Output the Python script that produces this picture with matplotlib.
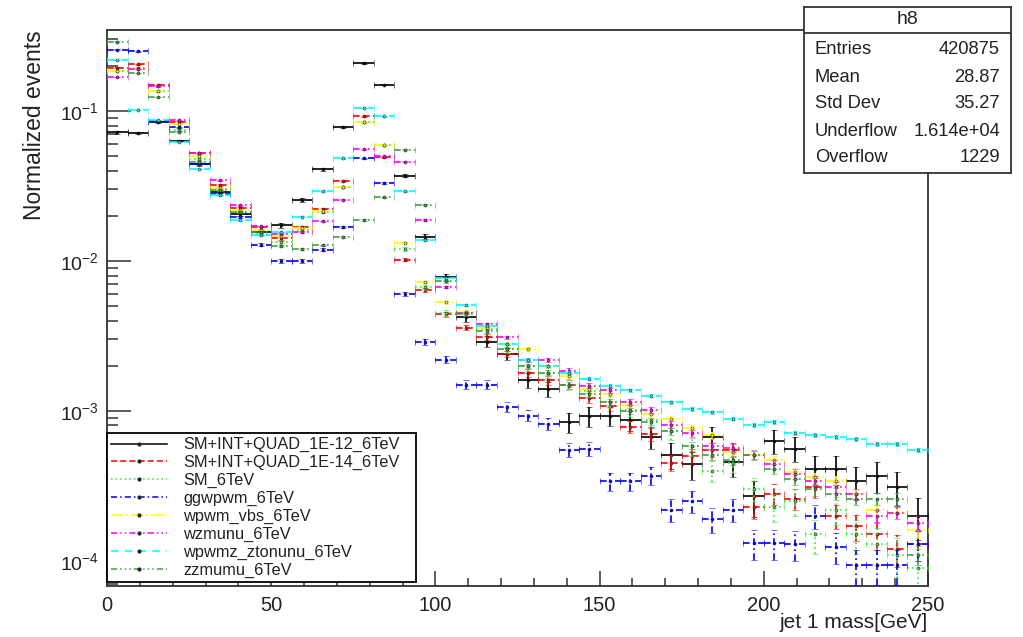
import numpy as np
import matplotlib
matplotlib.use("Agg")
import matplotlib.pyplot as plt
from matplotlib.lines import Line2D
from matplotlib.ticker import LogLocator, MultipleLocator, NullFormatter, LogFormatterSciNotation

plt.rcParams['font.family'] = ['Liberation Sans', 'DejaVu Sans']
plt.rcParams['mathtext.fontset'] = 'custom'
plt.rcParams['mathtext.rm'] = 'Liberation Sans'
plt.rcParams['mathtext.it'] = 'Liberation Sans:italic'
plt.rcParams['mathtext.default'] = 'regular'

# histogram binning: 40 bins from 0 to 250 GeV
bin_edges = np.linspace(0, 250, 41)

# normalized bin contents
h_1e12 = [0.072, 0.071, 0.085, 0.063, 0.044, 0.029, 0.0206, 0.0155, 0.0173, 0.0255,
          0.041, 0.078, 0.208, 0.150, 0.037, 0.0145, 0.0078, 0.0042, 0.0029, 0.0024,
          0.0016, 0.0014, 0.00084, 0.00092, 0.00093, 0.00087, 0.00067, 0.00051, 0.00044, 0.00067,
          0.00046, 0.00027, 0.00063, 0.00056, 0.00041, 0.00041, 0.00034, 0.00037, 0.00031, 0.0002]
h_1e14 = [0.194, 0.205, 0.148, 0.0844, 0.0523, 0.032, 0.0226, 0.0168, 0.0142, 0.0169,
          0.0221, 0.0343, 0.092, 0.049, 0.0102, 0.0064, 0.0044, 0.0036, 0.0031, 0.0024,
          0.0018, 0.0016, 0.0015, 0.00122, 0.00108, 0.00078, 0.0007, 0.00045, 0.0005, 0.00055,
          0.00055, 0.00023, 0.00028, 0.00026, 0.00031, 0.0002, 0.00017, 0.00015, 0.00012, 0.00013]
h_sm = [0.186, 0.194, 0.136, 0.075, 0.048, 0.030, 0.0212, 0.0152, 0.0133, 0.016,
        0.0213, 0.031, 0.084, 0.059, 0.012, 0.0067, 0.0045, 0.0045, 0.0035, 0.0026,
        0.0020, 0.0018, 0.0015, 0.00135, 0.00115, 0.00101, 0.00087, 0.00073, 0.00058, 0.0004,
        0.00045, 0.0003, 0.00023, 0.00025, 0.00015, 0.00022, 0.00015, 0.00013, 0.00011, 0.00009]
h_ggwpwm = [0.256, 0.25, 0.086, 0.078, 0.044, 0.028, 0.0197, 0.0128, 0.0100, 0.0100,
            0.0119, 0.0169, 0.0484, 0.033, 0.0060, 0.0029, 0.0022, 0.0015, 0.0015, 0.00107,
            0.00093, 0.00082, 0.00055, 0.00056, 0.00034, 0.00034, 0.00037, 0.00022, 0.00025, 0.00019,
            0.00022, 0.000131, 0.000131, 0.00013, 0.0002, 0.000124, 0.000094, 0.000094, 0.000094, 0.00013]
h_wpwm = [0.186, 0.19, 0.137, 0.082, 0.0505, 0.0307, 0.0218, 0.0162, 0.0147, 0.0165,
          0.0216, 0.0313, 0.0844, 0.0595, 0.0132, 0.0072, 0.0053, 0.0046, 0.0036, 0.0028,
          0.0026, 0.0020, 0.0017, 0.0014, 0.0013, 0.0011, 0.00095, 0.00088, 0.00077, 0.00069,
          0.00053, 0.00051, 0.00047, 0.00039, 0.00036, 0.00034, 0.00028, 0.00022, 0.00021, 0.00016]
h_wz = [0.169, 0.19, 0.146, 0.0866, 0.0528, 0.0346, 0.0235, 0.017, 0.0152, 0.0156,
        0.0184, 0.0256, 0.0556, 0.050, 0.046, 0.0188, 0.0067, 0.0045, 0.0038, 0.0031,
        0.0022, 0.0022, 0.00186, 0.00147, 0.00137, 0.00115, 0.00101, 0.00081, 0.00071, 0.00058,
        0.00057, 0.00051, 0.00044, 0.00038, 0.00034, 0.00031, 0.00028, 0.0002, 0.00021, 0.00018]
h_wpwmz = [0.219, 0.102, 0.087, 0.062, 0.041, 0.0274, 0.0187, 0.0148, 0.0156, 0.0197,
           0.0292, 0.0484, 0.1047, 0.092, 0.0292, 0.0137, 0.0077, 0.0051, 0.0037, 0.0028,
           0.0022, 0.0020, 0.0018, 0.00164, 0.00147, 0.00137, 0.00126, 0.00114, 0.00103, 0.00098,
           0.00089, 0.00081, 0.00084, 0.00071, 0.00069, 0.00067, 0.00065, 0.0006, 0.0006, 0.00055]
h_zz = [0.29, 0.18, 0.124, 0.073, 0.046, 0.0297, 0.0212, 0.0156, 0.0126, 0.012,
        0.0127, 0.0145, 0.0187, 0.0266, 0.0551, 0.0238, 0.0073, 0.0044, 0.0034, 0.0026,
        0.0020, 0.0018, 0.0015, 0.0013, 0.00115, 0.001, 0.00085, 0.00073, 0.00058, 0.00051,
        0.00047, 0.00051, 0.00041, 0.00035, 0.0003, 0.00028, 0.00026, 0.00026, 0.00026, 0.00011]

# effective MC statistics per sample (sets the size of the error bars)
n_eff = [5e4, 1.5e5, 1e5, 1.5e5, 5e5, 5e5, 1.5e6, 4e5]

labels = ["SM+INT+QUAD_1E-12_6TeV", "SM+INT+QUAD_1E-14_6TeV", "SM_6TeV", "ggwpwm_6TeV",
          "wpwm_vbs_6TeV", "wzmunu_6TeV", "wpwmz_ztonunu_6TeV", "zzmumu_6TeV"]
series = [h_1e12, h_1e14, h_sm, h_ggwpwm, h_wpwm, h_wz, h_wpwmz, h_zz]
colors = ["black", "#ff0000", "#33ee33", "#0000ff", "#ffff00", "#ff00ff", "#00ffff", "#44a044"]
styles = ["-", (0, (4, 2)), (0, (1, 2)), (0, (4, 2, 1, 2)), (0, (8, 2, 1, 2)),
          (0, (4, 2, 1, 2, 1, 2)), (0, (5, 4)), (0, (4, 2, 1, 2, 1, 2, 1, 2))]

stats_names = ["Entries", "Mean", "Std Dev", "Underflow", "Overflow"]
stats_vals = ["420875", "28.87", "35.27", "1.614e+04", "1229"]

W, H = 1023, 637
fig = plt.figure(figsize=(W / 100, H / 100), dpi=100)
ax = fig.add_axes([107 / W, 1 - 586 / H, (928 - 107) / W, (586 - 30) / H])

centers = 0.5 * (bin_edges[1:] + bin_edges[:-1])
half = 0.5 * np.diff(bin_edges)

handles = []
for i, (vals, col, ls, n) in enumerate(zip(series, colors, styles, n_eff)):
    vals = np.array(vals)
    err = np.sqrt(vals / n)
    cont = ax.errorbar(centers, vals, xerr=half, yerr=err, fmt='o', ms=2.2,
                       mfc=col, mec='#222222', mew=0.4, ecolor=col, elinewidth=1.2,
                       capsize=2.5, capthick=1.2, zorder=3 + i)
    for bc in cont[2]:
        bc.set_linestyle(ls)
    handles.append(Line2D([], [], color=col, linestyle=ls, lw=1.1, marker='o', ms=2,
                          mfc='#222222', mec='#222222'))

ax.set_yscale('log')
ax.set_xlim(0, 250)
ax.set_ylim(6.8e-5, 0.347)

ax.xaxis.set_major_locator(MultipleLocator(50))
ax.xaxis.set_minor_locator(MultipleLocator(10))
ax.yaxis.set_major_locator(LogLocator(base=10))
ax.yaxis.set_major_formatter(LogFormatterSciNotation())
ax.yaxis.set_minor_locator(LogLocator(base=10, subs=np.arange(2, 10)))
ax.yaxis.set_minor_formatter(NullFormatter())

ax.tick_params(axis='both', which='both', direction='in', top=False, right=False,
               colors='#333333', labelcolor='#222222', width=1.1)
ax.tick_params(axis='x', which='major', length=11, labelsize=14.5, pad=7)
ax.tick_params(axis='x', which='minor', length=5.5)
ax.tick_params(axis='y', which='major', length=17, labelsize=14, pad=6)
ax.tick_params(axis='y', which='minor', length=8)
for sp in ax.spines.values():
    sp.set_linewidth(1.3)
    sp.set_color('#333333')

fig.text(35 / W, 1 - 30 / H, "Normalized events", rotation=90, ha='center', va='top',
         fontsize=16.5, color='#222222')
fig.text(928 / W, 1 - 622 / H, "jet 1 mass[GeV]", ha='right', va='center',
         fontsize=15, color='#222222')

leg = ax.legend(handles, labels, loc='lower left',
                bbox_to_anchor=(107 / W, 1 - 582 / H, (416 - 107) / W, (582 - 435) / H),
                bbox_transform=fig.transFigure, mode='expand', fontsize=11.8,
                frameon=True, fancybox=False, edgecolor='black', framealpha=1,
                borderaxespad=0, borderpad=0.25, labelspacing=0.17,
                handlelength=3.4, handletextpad=1.0, numpoints=1)
leg.get_frame().set_linewidth(1.3)
leg.set_zorder(20)
for t in leg.get_texts():
    t.set_color('#222222')

# statistics box
sax = fig.add_axes([804 / W, 1 - 173 / H, (1011 - 804) / W, (173 - 7) / H])
sax.set_xlim(0, 1)
sax.set_ylim(0, 1)
sax.set_xticks([])
sax.set_yticks([])
sax.set_facecolor('white')
for sp in sax.spines.values():
    sp.set_linewidth(1.3)
    sp.set_color('#333333')
box_h = 173 - 7
sax.axhline(1 - (33 - 7) / box_h, color='#333333', lw=1.3)
sax.text(0.5, 1 - (20 - 7) / box_h, "h8", ha='center', va='center', fontsize=14,
         color='#222222')
row_y = [49, 77, 104, 131, 158]
for name, val, yy in zip(stats_names, stats_vals, row_y):
    sax.text((815 - 804) / 207, 1 - (yy - 7) / box_h, name, ha='left', va='center',
             fontsize=13.2, color='#222222')
    sax.text((1000 - 804) / 207, 1 - (yy - 7) / box_h, val, ha='right', va='center',
             fontsize=13.2, color='#222222')

fig.savefig("out.png", dpi=100, facecolor='white')
